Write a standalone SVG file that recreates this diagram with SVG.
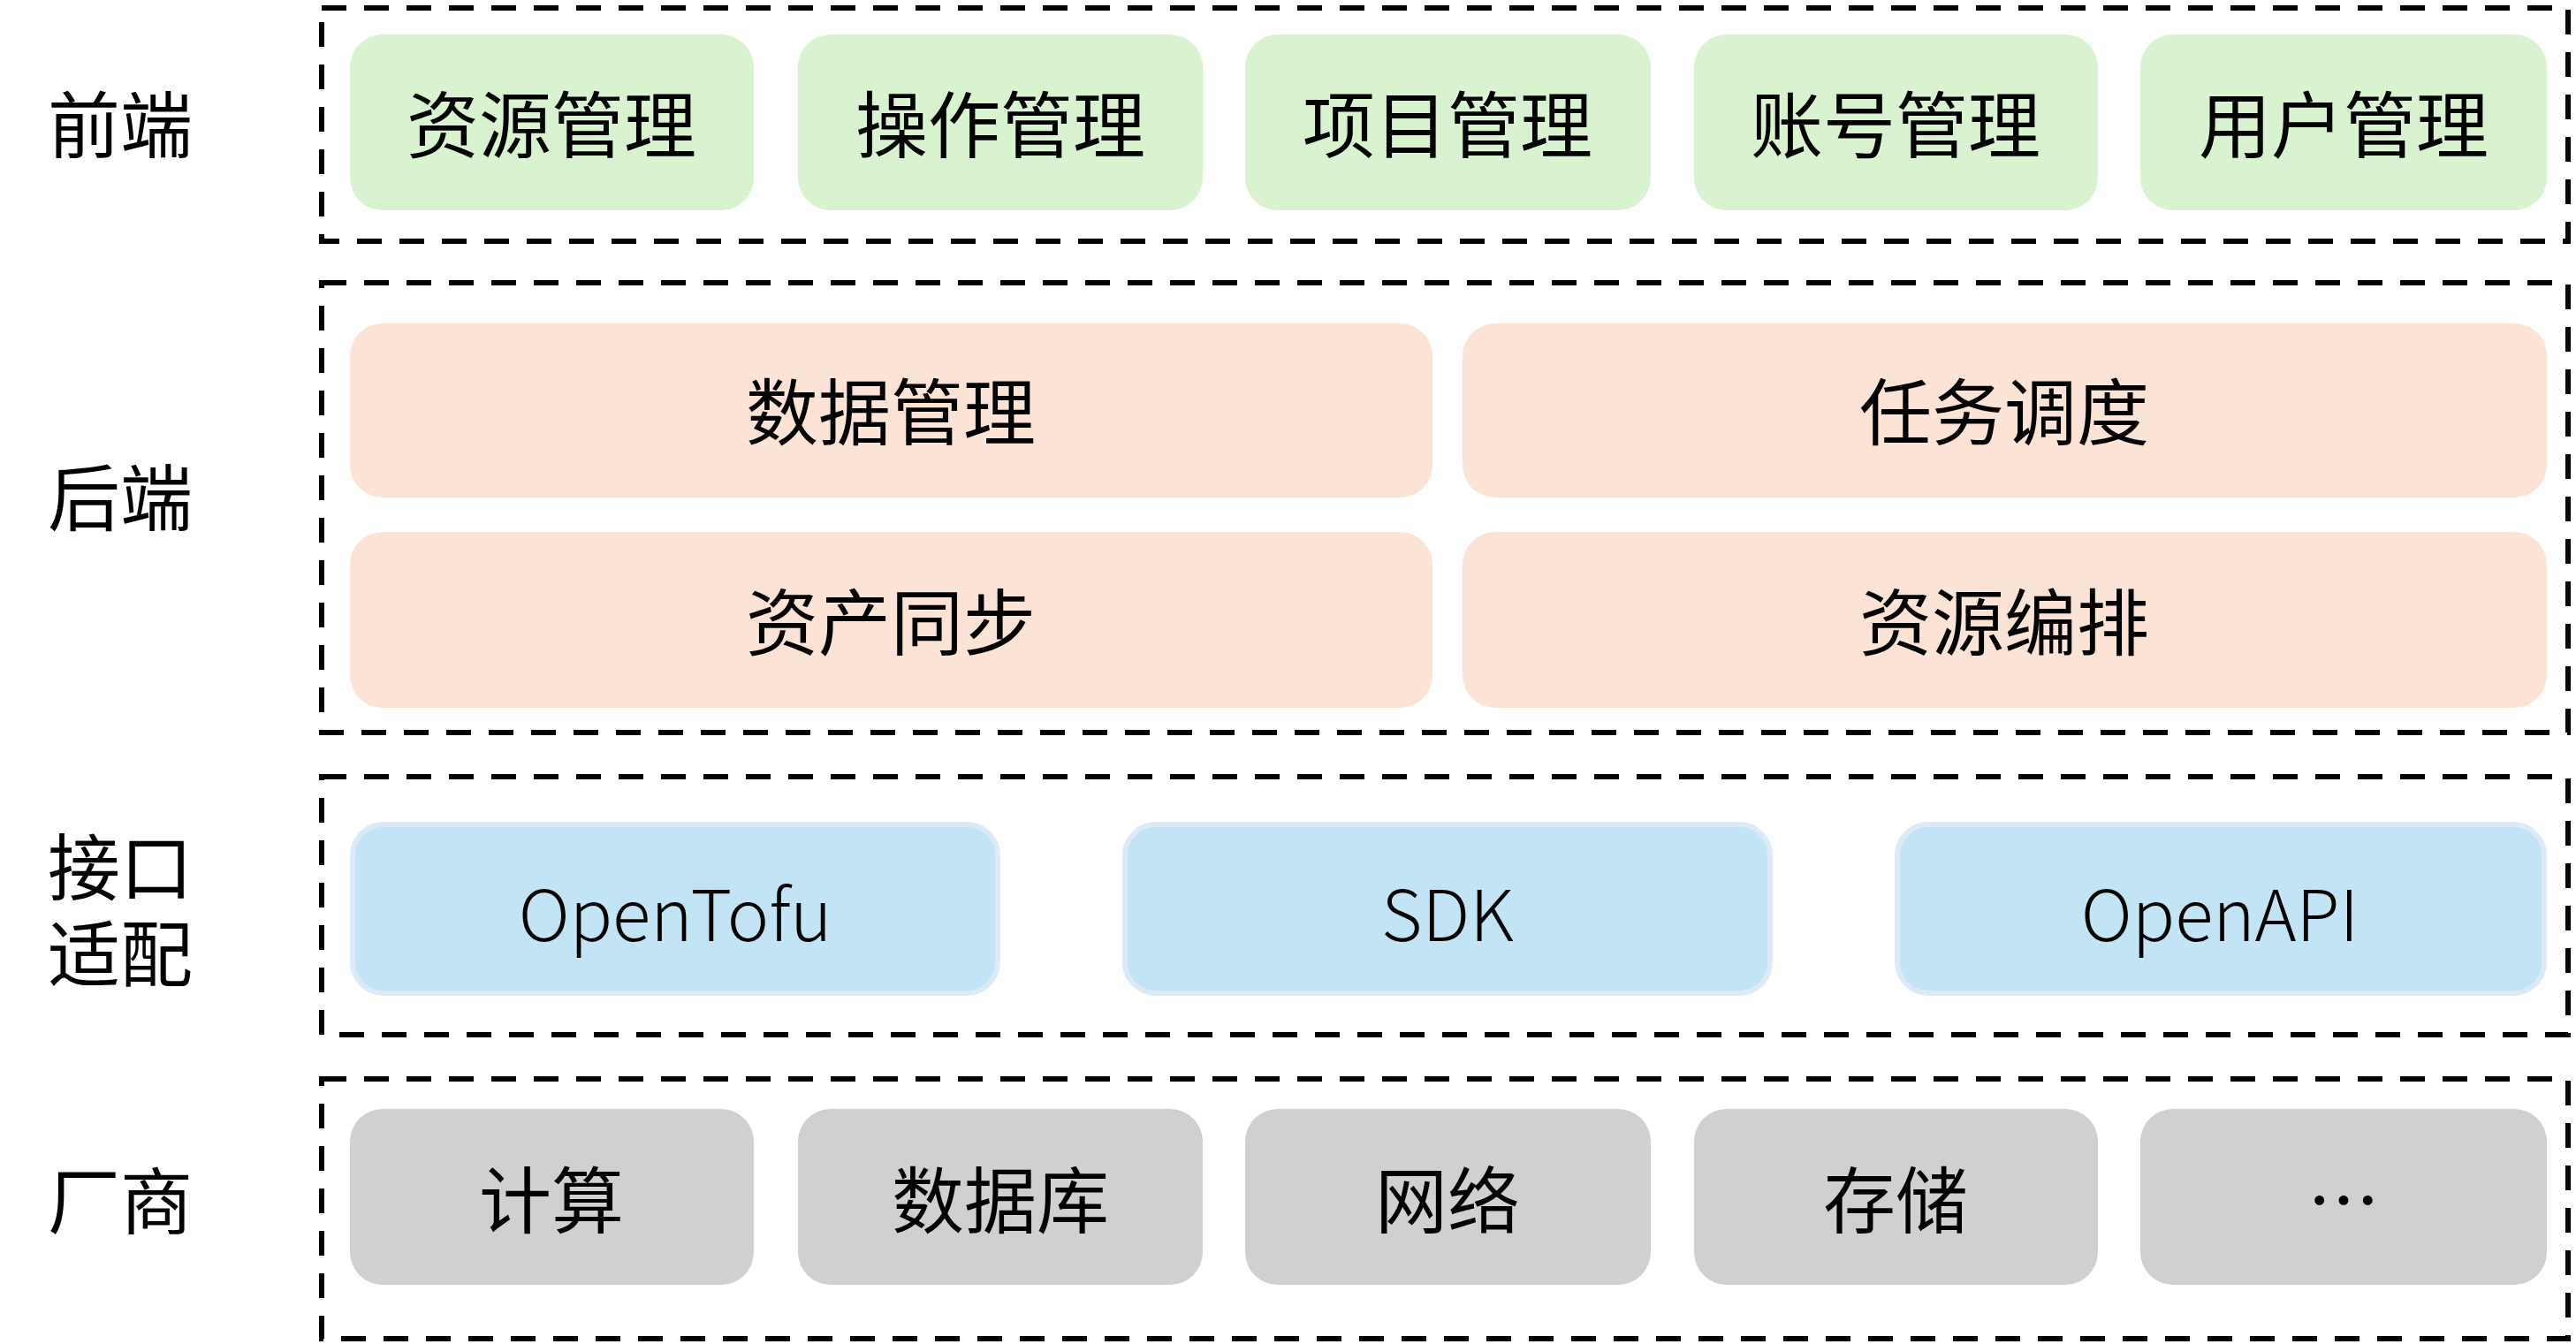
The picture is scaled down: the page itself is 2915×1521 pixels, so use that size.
<svg xmlns="http://www.w3.org/2000/svg" width="2915" height="1521" viewBox="0 0 2915 1521">
<style>
.layer{fill:none;stroke:#000;stroke-width:6;stroke-dasharray:28 20}
.fe{fill:#D9F2D0}
.be{fill:#FBE3D6}
.ia{fill:#C2E4F4;stroke:#DCEAF7;stroke-width:6}
.vd{fill:#D0D0D0}
text{font-family:"Noto Sans CJK SC","Noto Sans",sans-serif;font-size:82px;fill:#000;text-anchor:middle;dominant-baseline:central}
.lat{font-size:80px;font-weight:300}
</style>
<rect width="2915" height="1521" fill="#fff"/>
<g id="layers">
<rect class="layer" x="364" y="9" width="2542" height="264"/>
<rect class="layer" x="364" y="320" width="2542" height="509"/>
<rect class="layer" x="364" y="879" width="2542" height="292"/>
<rect class="layer" x="364" y="1221" width="2542" height="294"/>
</g>
<g id="labels">
<text x="136" y="136">前端</text>
<text x="136" y="558">后端</text>
<text x="136"><tspan x="136" y="976">接口</tspan><tspan x="136" y="1074">适配</tspan></text>
<text x="136" y="1354">厂商</text>
</g>
<g id="frontend">
<g id="fe1"><rect class="fe" x="396" y="39" width="457" height="199" rx="37"/><text x="624" y="136">资源管理</text></g>
<g id="fe2"><rect class="fe" x="903" y="39" width="458" height="199" rx="37"/><text x="1132" y="136">操作管理</text></g>
<g id="fe3"><rect class="fe" x="1409" y="39" width="459" height="199" rx="37"/><text x="1638" y="136">项目管理</text></g>
<g id="fe4"><rect class="fe" x="1917" y="39" width="457" height="199" rx="37"/><text x="2145" y="136">账号管理</text></g>
<g id="fe5"><rect class="fe" x="2422" y="39" width="460" height="199" rx="37"/><text x="2652" y="136">用户管理</text></g>
</g>
<g id="backend">
<g id="be1"><rect class="be" x="396" y="366" width="1225" height="197" rx="37"/><text x="1008" y="461">数据管理</text></g>
<g id="be2"><rect class="be" x="1655" y="366" width="1227" height="197" rx="37"/><text x="2268" y="461">任务调度</text></g>
<g id="be3"><rect class="be" x="396" y="602" width="1225" height="199" rx="37"/><text x="1008" y="699">资产同步</text></g>
<g id="be4"><rect class="be" x="1655" y="602" width="1227" height="199" rx="37"/><text x="2268" y="699">资源编排</text></g>
</g>
<g id="interface">
<g id="ia1"><rect class="ia" x="399" y="933" width="730" height="191" rx="35"/><text class="lat" x="764" y="1030">OpenTofu</text></g>
<g id="ia2"><rect class="ia" x="1273" y="933" width="730" height="191" rx="35"/><text class="lat" x="1638" y="1030">SDK</text></g>
<g id="ia3"><rect class="ia" x="2147" y="933" width="732" height="191" rx="35"/><text class="lat" x="2512" y="1030">OpenAPI</text></g>
</g>
<g id="vendor">
<g id="vd1"><rect class="vd" x="396" y="1255" width="457" height="199" rx="37"/><text x="624" y="1353">计算</text></g>
<g id="vd2"><rect class="vd" x="903" y="1255" width="458" height="199" rx="37"/><text x="1132" y="1353">数据库</text></g>
<g id="vd3"><rect class="vd" x="1409" y="1255" width="459" height="199" rx="37"/><text x="1638" y="1353">网络</text></g>
<g id="vd4"><rect class="vd" x="1917" y="1255" width="457" height="199" rx="37"/><text x="2145" y="1353">存储</text></g>
<g id="vd5"><rect class="vd" x="2422" y="1255" width="460" height="199" rx="37"/><text x="2652" y="1353">…</text></g>
</g>
<g id="connectors"/>
</svg>
